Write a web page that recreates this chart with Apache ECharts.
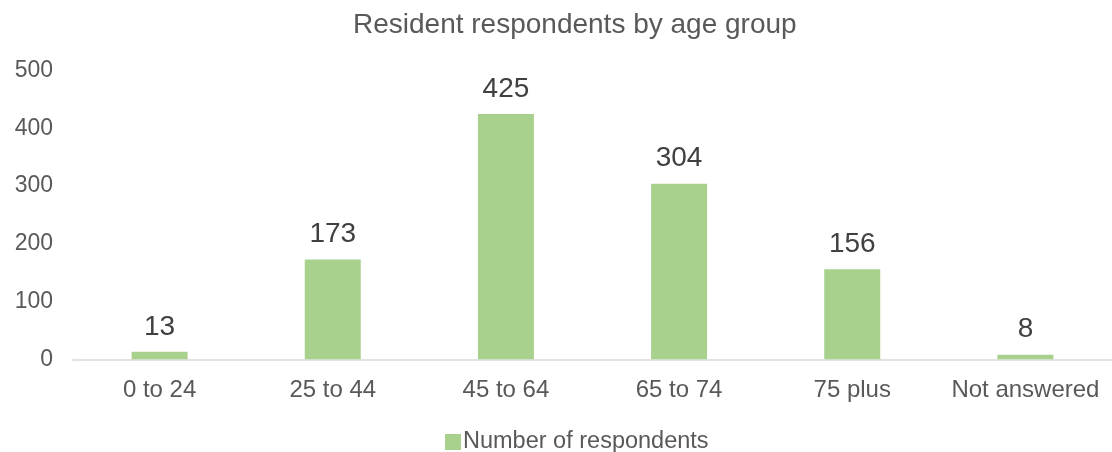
<!DOCTYPE html>
<html>
<head>
<meta charset="utf-8">
<script src="https://cdn.jsdelivr.net/npm/echarts@6/dist/echarts.min.js"></script>
<style>
html,body{margin:0;padding:0;background:#fff;}
#c{width:1112px;height:452px;}
</style>
</head>
<body>
<div id="c"></div>
<script>
const categories = ["0 to 24", "25 to 44", "45 to 64", "65 to 74", "75 plus", "Not answered"];
const respondents = [13, 173, 425, 304, 156, 8];
const seriesName = "Number of respondents";
const titleText = "Resident respondents by age group";

const chart = echarts.init(document.getElementById('c'), null, {renderer: 'canvas'});
const font = "'Liberation Sans', Arial, sans-serif";
chart.setOption({
  animation: false,
  backgroundColor: '#ffffff',
  title: {
    text: titleText,
    left: 348,
    top: 6,
    textStyle: {fontFamily: font, fontSize: 28, fontWeight: 'normal', color: '#595959'}
  },
  legend: {
    data: [seriesName],
    left: 440,
    top: 425,
    itemWidth: 16,
    itemHeight: 16,
    itemGap: 5,
    icon: 'rect',
    textStyle: {fontFamily: font, fontSize: 23.5, color: '#595959', padding: [0, 0, 0, -3]}
  },
  grid: {left: 73, top: 70.6, width: 1045, height: 288.7, containLabel: false},
  xAxis: {
    type: 'category',
    data: categories,
    axisLine: {lineStyle: {color: '#D9D9D9', width: 1.5}},
    axisTick: {show: false},
    axisLabel: {fontFamily: font, fontSize: 24, color: '#595959', margin: 19, interval: 0}
  },
  yAxis: {
    type: 'value',
    min: 0, max: 500, interval: 100,
    axisLine: {show: false},
    axisTick: {show: false},
    splitLine: {show: false},
    axisLabel: {fontFamily: font, fontSize: 23, color: '#595959', margin: 20}
  },
  series: [{
    name: seriesName,
    type: 'bar',
    data: respondents,
    barWidth: 56,
    itemStyle: {color: '#A9D18E'},
    label: {show: true, position: 'top', distance: 11, fontFamily: font, fontSize: 28, color: '#404040'}
  }]
});
</script>
</body>
</html>
